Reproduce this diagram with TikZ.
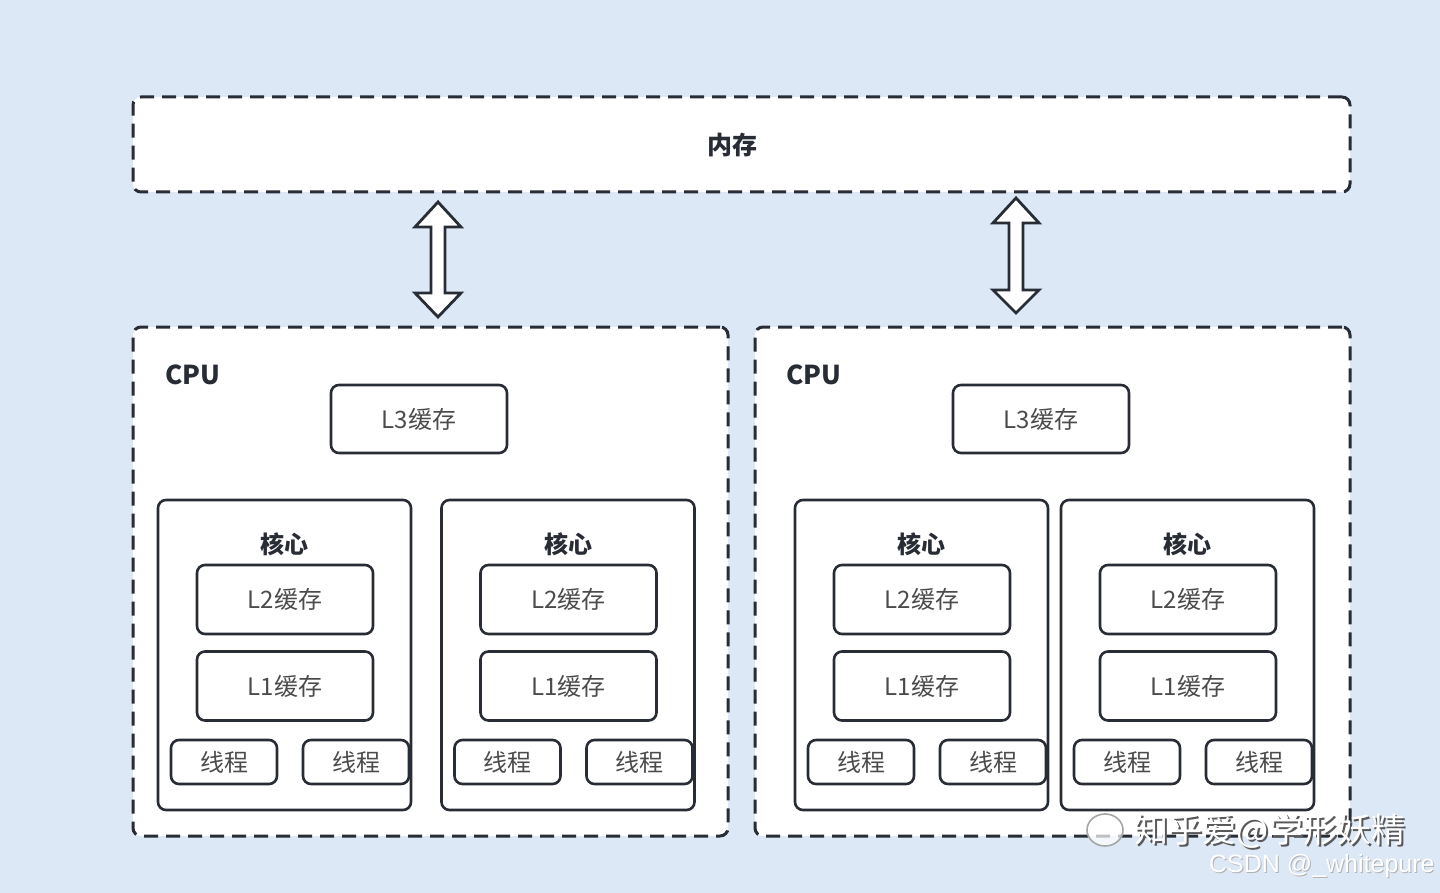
\documentclass[tikz,border=0pt]{standalone}
\usepackage{fontspec}
\newfontfamily\cjk{Noto Sans CJK SC}
\newfontfamily\arialf{Liberation Sans}
\definecolor{bgblue}{RGB}{220,232,246}
\definecolor{ink}{RGB}{40,44,52}
\definecolor{txt}{RGB}{75,75,75}
\begin{document}
\begin{tikzpicture}[x=0.5pt,y=-0.5pt,
  dashbox/.style={draw=ink,line width=1.5pt,dash pattern=on 7pt off 4pt,rounded corners=4pt,fill=white,inner sep=0pt},
  solidbox/.style={draw=ink,line width=1.3pt,rounded corners=4pt,fill=white,inner sep=0pt},
  lbl/.style={font=\cjk\fontsize{12}{14}\selectfont,text=txt},
  blbl/.style={font=\cjk\bfseries\fontsize{12}{14}\selectfont,text=ink},
  hollowarrow/.style={draw=ink,line width=1.4pt,fill=white,line join=miter}]
\fill[bgblue] (0,0) rectangle (1440,893);
\useasboundingbox (0,0) rectangle (1440,893);
% memory
\node[dashbox,minimum width=608.5pt,minimum height=47.5pt] (mem) at (741.5,144.5) {};
\node[blbl,font=\cjk\bfseries\fontsize{12.5}{14}\selectfont] (memlbl) at (732,145) {内存};
% CPUs
\node[dashbox,minimum width=297.5pt,minimum height=254.5pt] (cpuL) at (430.5,581.5) {};
\node[dashbox,minimum width=297.5pt,minimum height=254.5pt] (cpuR) at (1052.5,581.5) {};
\node[font=\cjk\bfseries\fontsize{13}{15}\selectfont,text=ink,anchor=west,inner sep=0pt] (cpuLlbl) at (165,375) {CPU};
\node[font=\cjk\bfseries\fontsize{13}{15}\selectfont,text=ink,anchor=west,inner sep=0pt] (cpuRlbl) at (786,375) {CPU};
% L3
\node[solidbox,minimum width=88pt,minimum height=34pt,lbl] (l3L) at (419,419) {L3缓存};
\node[solidbox,minimum width=88pt,minimum height=34pt,lbl] (l3R) at (1041,419) {L3缓存};
% cores
\foreach \cx/\n in {284.5/1,568/2,921.5/3,1187.5/4}{
  \node[solidbox,minimum width=126.5pt,minimum height=155pt] (core\n) at (\cx,655) {};
  \node[blbl] (corelbl\n) at (\cx,544) {核心};
  \node[solidbox,minimum width=88pt,minimum height=34.5pt,lbl] (l2\n) at (\cx+0.5,599.5) {L2缓存};
  \node[solidbox,minimum width=88pt,minimum height=34.5pt,lbl] (l1\n) at (\cx+0.5,686) {L1缓存};
  \node[solidbox,minimum width=53pt,minimum height=22pt,lbl] (tha\n) at (\cx-60.5,762) {线程};
  \node[solidbox,minimum width=53pt,minimum height=22pt,lbl] (thb\n) at (\cx+71.5,762) {线程};
}
% arrows between memory and CPUs
\coordinate (arL) at (438,202);
\coordinate (arR) at (1016,198);
\draw[hollowarrow] (arL) -- ++(23,25) -- ++(-16,0) -- ++(0,66) -- ++(16,0) -- ++(-23,24) -- ++(-23,-24) -- ++(16,0) -- ++(0,-66) -- ++(-16,0) -- cycle;
\draw[hollowarrow] (arR) -- ++(23,25) -- ++(-16,0) -- ++(0,67) -- ++(16,0) -- ++(-23,23) -- ++(-23,-23) -- ++(16,0) -- ++(0,-67) -- ++(-16,0) -- cycle;
% watermarks
\draw[gray!70,line width=0.8pt,fill=white,fill opacity=0.7] (1105,830) ellipse (18 and 16);
\node[font=\cjk\fontsize{17}{19}\selectfont,text=gray!70!black] (wm1s) at (1272,833) {知乎爱@学形妖精};
\node[font=\cjk\fontsize{17}{19}\selectfont,text=white] (wm1) at (1270,831) {知乎爱@学形妖精};
\node[font=\arialf\fontsize{12.5}{14}\selectfont,text=gray!60,anchor=east,inner sep=0pt] (wm2s) at (1436,867) {CSDN @\_whitepure};
\node[font=\arialf\fontsize{12.5}{14}\selectfont,text=white,anchor=east,inner sep=0pt] (wm2) at (1435,866) {CSDN @\_whitepure};
\end{tikzpicture}
\end{document}
